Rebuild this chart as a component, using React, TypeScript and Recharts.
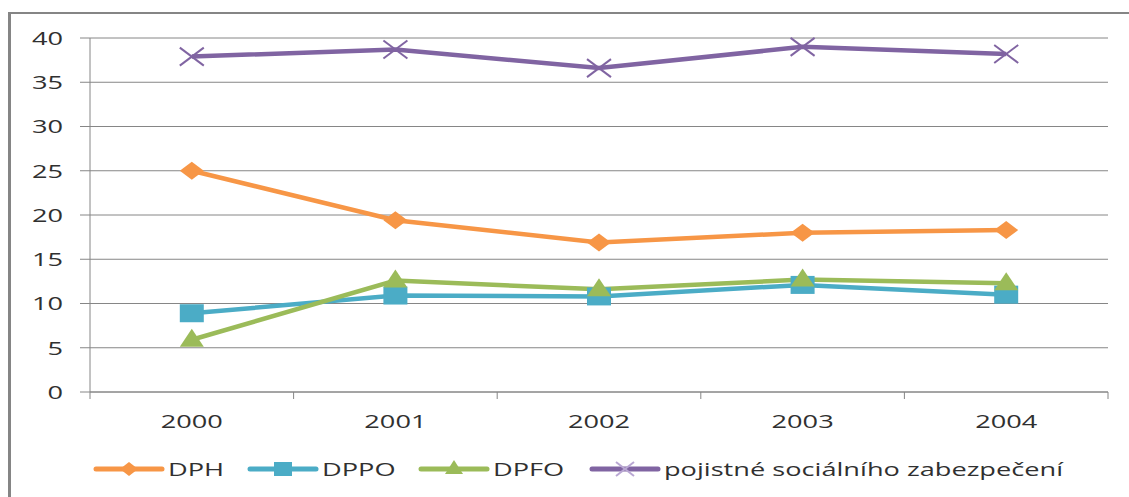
import React from 'react';
import { LineChart, Line, XAxis, YAxis, CartesianGrid } from 'recharts';

const categories = ['2000', '2001', '2002', '2003', '2004'];
const dph = [25.0, 19.4, 16.9, 18.0, 18.3];
const dppo = [8.9, 10.9, 10.8, 12.1, 11.0];
const dpfo = [5.9, 12.6, 11.6, 12.7, 12.3];
const pojistne = [37.9, 38.7, 36.6, 39.0, 38.2];
const yTicks = [0, 5, 10, 15, 20, 25, 30, 35, 40];
const seriesNames = ['DPH', 'DPPO', 'DPFO', 'pojistné sociálního zabezpečení'];
const seriesColors = ['#F79646', '#4BACC6', '#9BBB59', '#8064A2'];

const data = categories.map((c, i) => ({
  pos: i + 0.5,
  year: c,
  dph: dph[i],
  dppo: dppo[i],
  dpfo: dpfo[i],
  pojistne: pojistne[i],
}));

// boundary ticks (0..n) and label ticks (centres)
const xTicks: number[] = [];
for (let i = 0; i <= categories.length; i++) {
  xTicks.push(i);
  if (i < categories.length) xTicks.push(i + 0.5);
}

const FONT = '"Open Sans", sans-serif';
const SX = 1.43;
const TEXT = '#303030';
const GRID = '#868686';

const Marker = ({ kind, cx, cy, color, w = 24, h = 18 }: any) => {
  if (cx == null || cy == null) return null;
  const hw = w / 2;
  const hh = h / 2;
  if (kind === 'diamond')
    return <polygon points={`${cx},${cy - hh} ${cx + hw},${cy} ${cx},${cy + hh} ${cx - hw},${cy}`} fill={color} />;
  if (kind === 'square')
    return <rect x={cx - hw} y={cy - hh} width={w} height={h} fill={color} />;
  if (kind === 'triangle')
    return <polygon points={`${cx},${cy - hh - 2} ${cx + hw},${cy + hh - 2} ${cx - hw},${cy + hh - 2}`} fill={color} />;
  return (
    <g stroke={color} strokeWidth={2}>
      <line x1={cx - hw} y1={cy - hh} x2={cx + hw} y2={cy + hh} />
      <line x1={cx - hw} y1={cy + hh} x2={cx + hw} y2={cy - hh} />
    </g>
  );
};

const kinds = ['diamond', 'square', 'triangle', 'x'];

const makeDot = (kind: string, color: string) => (props: any) => (
  <Marker key={`${kind}-${props.index}`} kind={kind} cx={props.cx} cy={props.cy} color={color} />
);

const YTick = (props: any) => {
  const { x, y, payload } = props;
  return (
    <g transform={`translate(${x},${y}) scale(${SX},1)`}>
      <text x={0} y={0} dy="0.36em" textAnchor="end" fontFamily={FONT} fontSize={19} fill={TEXT}>
        {payload.value}
      </text>
    </g>
  );
};

const XTick = (props: any) => {
  const { x, y, payload } = props;
  const v = payload.value;
  if (Number.isInteger(v)) {
    return <line x1={x} y1={y} x2={x} y2={y + 7} stroke={GRID} strokeWidth={1} />;
  }
  const label = categories[Math.floor(v)];
  return (
    <g transform={`translate(${x},${y}) scale(${SX},1)`}>
      <text x={0} y={36} textAnchor="middle" fontFamily={FONT} fontSize={19} fill={TEXT}>
        {label}
      </text>
    </g>
  );
};

const legendLineStarts = [96, 250, 421, 592];

const LegendSvg = () => (
  <svg width={1129} height={60} style={{ position: 'absolute', left: 0, top: 440 }}>
    {seriesNames.map((name, i) => {
      const x0 = legendLineStarts[i];
      const cy = 29;
      return (
        <g key={name}>
          <line x1={x0} y1={cy} x2={x0 + 66} y2={cy} stroke={seriesColors[i]} strokeWidth={5} strokeLinecap="round" />
          <Marker kind={kinds[i]} cx={x0 + 33} cy={cy} color={kinds[i] === 'x' ? '#B9A7D3' : seriesColors[i]} w={18} h={14} />
          <g transform={`translate(${x0 + 72},${cy}) scale(${SX},1)`}>
            <text x={0} y={0} dy="0.36em" fontFamily={FONT} fontSize={19} fill={TEXT}>
              {name}
            </text>
          </g>
        </g>
      );
    })}
  </svg>
);

export default function App() {
  return (
    <div style={{ position: 'absolute', left: 0, top: 0, width: 1129, height: 497, overflow: 'hidden', background: '#fff' }}>
      <div
        style={{
          position: 'absolute',
          left: 8,
          top: 12,
          width: 1400,
          height: 700,
          borderLeft: '3px solid #858585',
          borderTop: '2px solid #858585',
        }}
      />
      <div style={{ position: 'absolute', left: 0, top: 0 }}>
        <LineChart width={1129} height={497} data={data} margin={{ top: 38, right: 21, left: 0, bottom: 0 }}>
          <CartesianGrid vertical={false} stroke={GRID} strokeWidth={1} />
          <XAxis
            dataKey="pos"
            type="number"
            domain={[0, categories.length]}
            ticks={xTicks}
            interval={0}
            tickSize={0}
            tickMargin={0}
            height={105}
            axisLine={{ stroke: GRID, strokeWidth: 1 }}
            tickLine={false}
            tick={<XTick />}
          />
          <YAxis
            domain={[0, 40]}
            ticks={yTicks}
            width={90}
            tickSize={10}
            tickMargin={17}
            interval={0}
            axisLine={{ stroke: GRID, strokeWidth: 1 }}
            tickLine={{ stroke: GRID, strokeWidth: 1 }}
            tick={<YTick />}
          />
          <Line dataKey="dph" stroke={seriesColors[0]} strokeWidth={4.5} dot={makeDot('diamond', seriesColors[0])} activeDot={false} isAnimationActive={false} />
          <Line dataKey="dppo" stroke={seriesColors[1]} strokeWidth={4.5} dot={makeDot('square', seriesColors[1])} activeDot={false} isAnimationActive={false} />
          <Line dataKey="dpfo" stroke={seriesColors[2]} strokeWidth={4.5} dot={makeDot('triangle', seriesColors[2])} activeDot={false} isAnimationActive={false} />
          <Line dataKey="pojistne" stroke={seriesColors[3]} strokeWidth={4.5} dot={makeDot('x', seriesColors[3])} activeDot={false} isAnimationActive={false} />
        </LineChart>
      </div>
      <LegendSvg />
    </div>
  );
}
